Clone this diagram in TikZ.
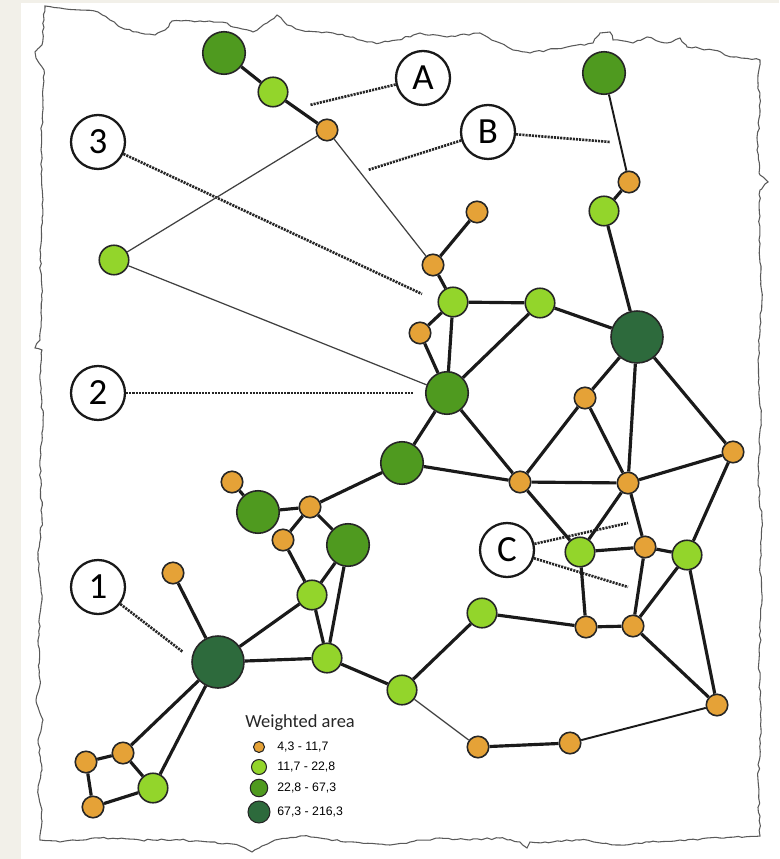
\documentclass[tikz,border=0pt]{standalone}
\usepackage{fontspec}
\setmainfont{Carlito}
\newfontfamily\legfont{Liberation Sans}
\usepackage{tikz}
\usetikzlibrary{positioning,backgrounds,decorations.pathmorphing}
\definecolor{cSml}{HTML}{E5A237}
\definecolor{cLgt}{HTML}{93D52B}
\definecolor{cMid}{HTML}{4F9A1F}
\definecolor{cBig}{HTML}{2D6A3C}
\definecolor{cPage}{HTML}{F2F0E9}
\definecolor{cEdge}{HTML}{1A1A1A}
\pgfmathsetseed{11}
\tikzset{
  x=0.2mm, y=-0.2mm,
  site/.style  ={circle, draw=black!85, line width=0.9pt, inner sep=0pt},
  sml/.style   ={site, fill=cSml, minimum size=4.3mm},
  lgt/.style   ={site, fill=cLgt, minimum size=5.9mm},
  mid/.style   ={site, fill=cMid, minimum size=8.5mm},
  big/.style   ={site, fill=cBig, minimum size=10.4mm},
  ed/.style    ={draw=cEdge, line width=1.8pt},
  md/.style    ={draw=cEdge, line width=1.1pt},
  ln/.style    ={draw=black!75, line width=0.7pt},
  ptr/.style   ={draw=black!85, line width=1.5pt, dash pattern=on 1.2pt off 0.6pt},
  tag/.style   ={circle, draw=black!90, line width=1.3pt, fill=white, minimum size=10.8mm,
                 inner sep=0pt, font=\fontsize{21}{21}\selectfont},
  key/.style   ={circle, draw=black!85, line width=0.6pt, inner sep=0pt},
  keytxt/.style={anchor=west, font=\legfont\fontsize{7}{8}\selectfont, inner sep=0pt},
  outl/.style  ={draw=black!65, line width=0.6pt, decorate,
                 decoration={random steps, segment length=0.9mm, amplitude=0.2mm}},
}

\begin{document}
\begin{tikzpicture}
  \useasboundingbox (0,0) rectangle (779,859);
  % north
  \node[mid] (t1) at (224,53) {};
  \node[lgt] (t2) at (273,92) {};
  \node[sml] (t3) at (327,130) {};
  \node[lgt] (w1) at (114,260) {};
  % centre
  \node[sml] (c1) at (477,212) {};
  \node[sml] (c2) at (433,265) {};
  \node[lgt] (c3) at (453,302) {};
  \node[lgt] (c4) at (540,303) {};
  \node[sml] (c5) at (420,333) {};
  \node[mid] (c6) at (447,393) {};
  \node[mid] (c7) at (402,463) {};
  % east
  \node[mid] (e1) at (604,73) {};
  \node[sml] (e2) at (629,182) {};
  \node[lgt] (e3) at (604,211) {};
  \node[big] (e4) at (637,337) {};
  \node[sml] (e5) at (585,398) {};
  \node[sml] (e6) at (733,452) {};
  \node[sml] (e7) at (520,482) {};
  \node[sml] (e8) at (628,483) {};
  % south
  \node[lgt] (s1) at (580,552) {};
  \node[sml] (s2) at (645,547) {};
  \node[lgt] (s3) at (687,555) {};
  \node[sml] (s4) at (586,627) {};
  \node[sml] (s5) at (633,626) {};
  \node[sml] (s6) at (717,705) {};
  \node[lgt] (s7) at (482,613) {};
  \node[lgt] (s8) at (402,690) {};
  \node[sml] (s9) at (478,747) {};
  \node[sml] (s10) at (570,743) {};
  % west
  \node[sml] (m1) at (232,482) {};
  \node[mid] (m2) at (258,512) {};
  \node[sml] (m3) at (310,507) {};
  \node[sml] (m4) at (283,540) {};
  \node[mid] (m5) at (348,545) {};
  \node[lgt] (m6) at (312,595) {};
  \node[lgt] (m7) at (327,658) {};
  \node[big] (h) at (218,662) {};
  \node[sml] (h1) at (173,573) {};
  \node[sml] (h2) at (123,753) {};
  \node[sml] (h3) at (86,762) {};
  \node[lgt] (h4) at (153,788) {};
  \node[sml] (h5) at (93,807) {};
  % callouts
  \node[tag] (nA) at (423,78) {A};
  \node[tag] (nB) at (488,132) {B};
  \node[tag] (nC) at (507,550) {C};
  \node[tag] (n1) at (98,587) {1};
  \node[tag] (n2) at (98,393) {2};
  \node[tag] (n3) at (98,142) {3};
  \coordinate (pA) at (310,105);
  \coordinate (pB1) at (368,170);
  \coordinate (pB2) at (610,142);
  \coordinate (pC1) at (628,523);
  \coordinate (pC2) at (628,587);
  \coordinate (p1) at (183,652);
  \coordinate (p2) at (413,393);
  \coordinate (p3) at (422,294);
  % legend
  \node[anchor=west, inner sep=0pt, text=black!85, font=\fontsize{10.5}{12}\selectfont] (ktl) at (245,723) {Weighted area};
  \node[key, fill=cSml, minimum size=2.2mm] (k1) at (259,747) {};
  \node[key, fill=cLgt, minimum size=3.0mm] (k2) at (259,767) {};
  \node[key, fill=cMid, minimum size=3.5mm] (k3) at (259,788) {};
  \node[key, fill=cBig, minimum size=4.4mm] (k4) at (259,812) {};
  \node[keytxt] (k1t) at (277,747) {4,3 - 11,7};
  \node[keytxt] (k2t) at (277,767) {11,7 - 22,8};
  \node[keytxt] (k3t) at (277,788) {22,8 - 67,3};
  \node[keytxt] (k4t) at (277,812) {67,3 - 216,3};

  \begin{scope}[on background layer]
    \fill[cPage] (0,0) rectangle (779,859);
    \fill[white] (21,3) rectangle (779,859);
    \draw[outl] (45,6) -- (60,8) -- (80,10) -- (98,12) -- (110,20) -- (120,27) -- (140,33) -- (155,35)
      -- (165,30) -- (172,21) -- (200,21) -- (227,23) -- (233,27) -- (253,32) -- (267,23) -- (277,15)
      -- (287,25) -- (300,30) -- (333,33) -- (353,37) -- (367,42) -- (380,43) -- (397,40) -- (420,33)
      -- (447,37) -- (480,33) -- (513,50) -- (530,53) -- (547,50) -- (567,47) -- (593,43) -- (600,33)
      -- (610,32) -- (613,40) -- (633,43) -- (647,37) -- (667,43) -- (680,38) -- (687,47) -- (713,50)
      -- (733,57) -- (760,60) -- (758,75) -- (760,110) -- (757,150) -- (760,175) -- (768,182) -- (760,190)
      -- (759,240) -- (762,300) -- (758,360) -- (761,420) -- (758,480) -- (762,520) -- (760,560)
      -- (762,600) -- (759,660) -- (761,720) -- (758,780) -- (760,836) -- (720,838) -- (680,840)
      -- (650,842) -- (620,845) -- (580,840) -- (545,842) -- (530,842) -- (527,848) -- (520,842)
      -- (500,838) -- (470,840) -- (440,838) -- (410,842) -- (390,845) -- (345,842) -- (320,838)
      -- (300,836) -- (275,840) -- (262,846) -- (252,852) -- (240,846) -- (215,842) -- (180,840)
      -- (140,840) -- (100,838) -- (60,842) -- (40,840) -- (42,810) -- (38,790) -- (42,770) -- (38,740)
      -- (43,720) -- (36,700) -- (40,680) -- (38,640) -- (42,600) -- (38,560) -- (42,520) -- (40,460)
      -- (43,420) -- (40,380) -- (42,350) -- (35,348) -- (40,340) -- (42,300) -- (40,250) -- (43,200)
      -- (41,150) -- (43,100) -- (44,70) -- (36,58) -- (35,52) -- (42,45) -- (44,20) -- cycle;
    % callout leaders
    \draw[ptr](nA)--(pA);\draw[ptr](nB)--(pB1);\draw[ptr](nB)--(pB2);
    \draw[ptr](n3)--(p3);\draw[ptr](n2)--(p2);\draw[ptr](n1)--(p1);
    \draw[ptr](nC)--(pC1);\draw[ptr](nC)--(pC2);
    % links
    \draw[ed](t1)--(t2);\draw[ed](t2)--(t3);
    \draw[ln](t3)--(w1);\draw[ln](t3)--(c2);\draw[ln](w1)--(c6);
    \draw[ed](c2)--(c1);\draw[ed](c2)--(c3);\draw[ed](c3)--(c4);\draw[ed](c3)--(c5);
    \draw[ed](c3)--(c6);\draw[ed](c5)--(c6);\draw[ed](c4)--(c6);\draw[ed](c4)--(e4);
    \draw[md](e1)--(e2);\draw[ed](e2)--(e3);\draw[ed](e3)--(e4);
    \draw[ed](e4)--(e5);\draw[ed](e4)--(e8);\draw[ed](e4)--(e6);
    \draw[ed](c6)--(c7);\draw[ed](c6)--(e7);\draw[ed](c7)--(e7);\draw[ed](c7)--(m3);
    \draw[ed](e7)--(e5);\draw[ed](e5)--(e8);\draw[ed](e7)--(e8);\draw[ed](e8)--(e6);
    \draw[ed](e7)--(s1);\draw[ed](e8)--(s1);\draw[ed](e8)--(s2);\draw[ed](s1)--(s2);
    \draw[ed](s2)--(s3);\draw[ed](e6)--(s3);\draw[ed](s1)--(s4);\draw[ed](s2)--(s5);
    \draw[ed](s3)--(s5);\draw[ed](s3)--(s6);\draw[ed](s5)--(s6);\draw[ed](s4)--(s5);
    \draw[ed](s7)--(s4);\draw[ed](s7)--(s8);\draw[ln](s8)--(s9);\draw[ed](s9)--(s10);
    \draw[md](s10)--(s6);\draw[ed](s8)--(m7);
    \draw[ed](m7)--(h);\draw[ed](m7)--(m6);\draw[ed](m7)--(m5);\draw[ed](m6)--(m5);
    \draw[ed](m6)--(m4);\draw[ed](m6)--(h);\draw[ed](m4)--(m3);\draw[ed](m2)--(m3);
    \draw[ed](m1)--(m2);\draw[ed](m3)--(m5);
    \draw[ed](h)--(h1);\draw[ed](h)--(h2);\draw[ed](h)--(h4);\draw[ed](h2)--(h3);
    \draw[ed](h2)--(h4);\draw[ed](h3)--(h5);\draw[ed](h5)--(h4);
  \end{scope}
\end{tikzpicture}
\end{document}
